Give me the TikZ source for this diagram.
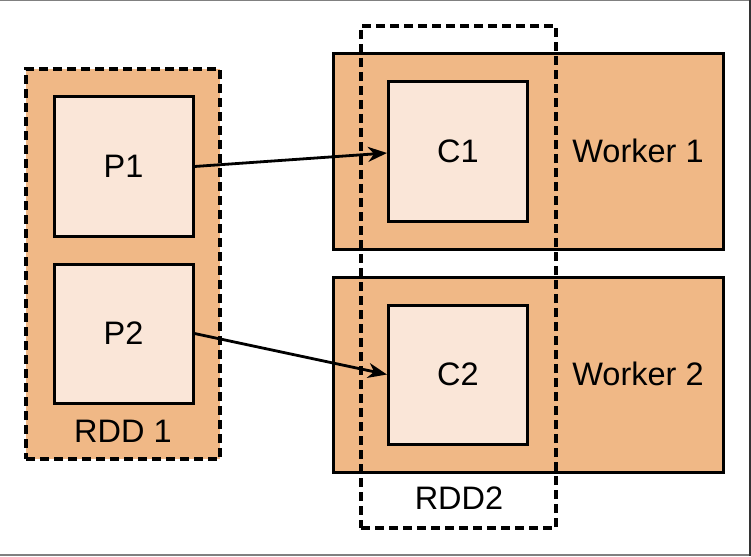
\documentclass[tikz,border=0pt]{standalone}
\usepackage{fontspec}
\setmainfont{Liberation Sans}
\usetikzlibrary{arrows.meta}
\definecolor{outer}{RGB}{240,184,134}
\definecolor{inner}{RGB}{250,230,216}
\definecolor{framegray}{RGB}{128,128,128}
\begin{document}
\begin{tikzpicture}[x=1pt,y=-1pt,
  boxline/.style={line width=3pt},
  dashbox/.style={line width=3.2pt, dash pattern=on 9pt off 5pt},
  partbox/.style={draw, boxline, fill=inner, minimum width=139pt, minimum height=139pt, inner sep=0pt, font=\fontsize{32.5}{38}\selectfont},
  workerbox/.style={draw, boxline, fill=outer, minimum width=390pt, minimum height=195pt, inner sep=0pt},
  lbl/.style={font=\fontsize{32.5}{38}\selectfont, inner sep=0pt},
  conn/.style={line width=2.8pt, -{Stealth[length=19pt, width=15pt, inset=6pt]}}
]
\useasboundingbox (0,0) rectangle (751,556);
% outer frame
\draw[framegray, line width=1.5pt] (0,0.75) -- (750,0.75);
\draw[framegray, line width=1.5pt] (0,555) -- (750,555);
\draw[black!80, line width=1.5pt] (750,0) -- (750,556);

% RDD 1
\node[draw, dashbox, fill=outer, minimum width=194pt, minimum height=390pt, inner sep=0pt] (rdd1) at (123,264) {};
\node[partbox] (p1) at (123.5,166.5) {P1};
\node[partbox] (p2) at (123.5,333.5) {P2};
\node[lbl] (rdd1l) at (123,431) {RDD 1};

% Workers
\node[workerbox] (w1) at (528,151.5) {};
\node[workerbox] (w2) at (528,374.5) {};
\node[partbox] (c1) at (458,151.5) {C1};
\node[partbox] (c2) at (458,374.5) {C2};
\node[lbl] (w1l) at (638,151) {Worker 1};
\node[lbl] (w2l) at (638,374) {Worker 2};

% RDD2
\node[draw, dashbox, minimum width=195pt, minimum height=502pt, inner sep=0pt] (rdd2) at (458.5,277) {};
\node[lbl] (rdd2l) at (459,498) {RDD2};

% connectors
\draw[conn] (p1.east) -- ([yshift=-1.5pt]c1.west);
\draw[conn] (p2.east) -- (c2.west);
\end{tikzpicture}
\end{document}
